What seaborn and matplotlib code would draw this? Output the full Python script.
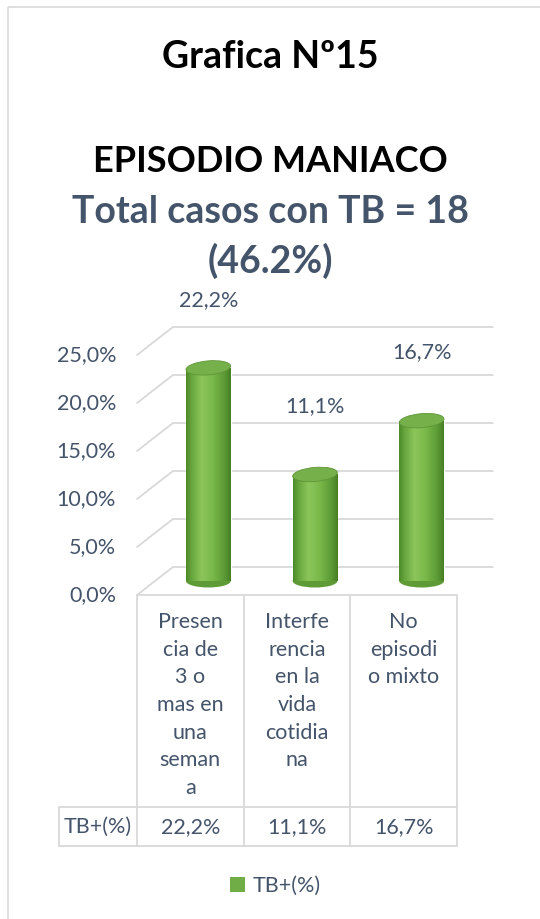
import numpy as np
import pandas as pd
import matplotlib
matplotlib.use("Agg")
import matplotlib.pyplot as plt
import seaborn as sns
from matplotlib import transforms
from matplotlib.patches import Ellipse, Patch, Rectangle
from matplotlib.colors import LinearSegmentedColormap

# ---------------- data ----------------
categories = ["Presencia de 3 o mas en una semana",
              "Interferencia en la vida cotidiana",
              "No episodio mixto"]
category_lines = [["Presen", "cia de", "3 o", "mas en", "una", "seman", "a"],
                  ["Interfe", "rencia", "en la", "vida", "cotidia", "na"],
                  ["No", "episodi", "o mixto"]]
values = [22.2, 11.1, 16.7]
value_labels = ["22,2%", "11,1%", "16,7%"]
yticks = [0, 5, 10, 15, 20, 25]
ytick_labels = ["0,0%", "5,0%", "10,0%", "15,0%", "20,0%", "25,0%"]
series_name = "TB+(%)"
title1 = "Grafica Nº15"
title2 = "EPISODIO MANIACO"
title3 = "Total casos con TB = 18"
title4 = "(46.2%)"

# ---------------- style ----------------
sns.set_theme(style="white")
plt.rcParams["font.family"] = ["Lato", "DejaVu Sans"]
TXT = "#44546A"
GRID = "#D9D9D9"
FS = 15.5

W, H = 540, 919
fig = plt.figure(figsize=(W / 100, H / 100), dpi=100)
fig.patch.set_facecolor("white")

ov = fig.add_axes([0, 0, 1, 1])
ov.set_xlim(0, W)
ov.set_ylim(H, 0)
ov.axis("off")

# main plot axes: mid-depth coordinates
x_left, x_right = 155, 475
y0_px, y25_px = 581, 341
ax = fig.add_axes([x_left / W, (H - y0_px) / H, (x_right - x_left) / W, (y0_px - y25_px) / H])
ax.patch.set_alpha(0)

px_per_cat = (x_right - x_left) / 3.0
px_per_pct = (y0_px - y25_px) / 25.0
DX = 18 / px_per_cat
DY = 14 / px_per_pct

df = pd.DataFrame({"cat": categories, "val": values})
sns.barplot(data=df, x="cat", y="val", color="#70AD47", width=0.42, ax=ax,
            zorder=2, saturation=1)
ax.set_xlim(-0.5, 2.5)
ax.set_ylim(0, 25)
ax.axis("off")

# back wall gridlines and side wall
for t in yticks:
    ax.plot([-0.5 + DX, 2.5 + DX], [t + DY, t + DY], color=GRID, lw=1.3,
            clip_on=False, zorder=0)
    ax.plot([-0.5 - DX, -0.5 + DX], [t - DY, t + DY], color=GRID, lw=1.3,
            clip_on=False, zorder=0)
# floor front edge
ax.plot([-0.5 - DX, 2.5 - DX], [-DY, -DY], color=GRID, lw=1.3, clip_on=False, zorder=0)

# cylinder shading
cmap = LinearSegmentedColormap.from_list(
    "cyl", [(0, "#4C8829"), (0.12, "#66A53C"), (0.35, "#8CC65B"),
            (0.6, "#79B849"), (0.85, "#5D9B36"), (1, "#467E24")])
grad = np.linspace(0, 1, 256).reshape(1, -1)
eh = 13 / px_per_pct
bars = list(ax.patches)
for i, p in enumerate(bars):
    x0, w, h = p.get_x(), p.get_width(), p.get_height()
    xc = x0 + w / 2
    p.set_clip_on(False)
    im = ax.imshow(grad, extent=[x0, x0 + w, 0, h], aspect="auto", cmap=cmap,
                   zorder=2.1, interpolation="bilinear")
    im.set_clip_path(p)
    bot = Ellipse((xc, 0), w, eh, facecolor="#5E9B37", edgecolor="none",
                  zorder=2.05, clip_on=False)
    ax.add_patch(bot)
    im2 = ax.imshow(grad, extent=[x0, x0 + w, -eh / 2, 0.01], aspect="auto", cmap=cmap,
                    zorder=2.1, interpolation="bilinear")
    im2.set_clip_path(bot)
    top = Ellipse((0, 0), w * px_per_cat, 14, angle=5, facecolor="#76B04A",
                  edgecolor="#5F9539", lw=0.6, zorder=2.3,
                  transform=transforms.ScaledTranslation(xc, h, ax.transData))
    ax.add_patch(top)
    ax.text(xc, h + 7.1, value_labels[i], ha="center", va="center",
            color=TXT, fontsize=FS, zorder=3)

ax.set_xlim(-0.5, 2.5)
ax.set_ylim(0, 25)

# y tick labels (front edge)
ytrans = transforms.blended_transform_factory(ov.transData, ax.transData)
for t, lab in zip(yticks, ytick_labels):
    ov.text(116, t - DY, lab, transform=ytrans, ha="right", va="center",
            color=TXT, fontsize=FS)

# data table
xtrans = transforms.blended_transform_factory(ax.transData, ov.transData)
floor_px = 595
row_top, row_bot = 807, 846
bounds = [i - 0.5 - DX for i in range(len(categories) + 1)]
for b in bounds:
    ov.plot([b, b], [floor_px, row_bot], transform=xtrans, color=GRID, lw=1.3, clip_on=False)
ov.plot([59, 59], [row_top, row_bot], color=GRID, lw=1.3)
for yy in (row_top, row_bot):
    ov.plot([59, 137], [yy, yy], color=GRID, lw=1.3)
    ov.plot([bounds[0], bounds[-1]], [yy, yy], transform=xtrans, color=GRID, lw=1.3)
for i, lines in enumerate(category_lines):
    ov.text(i - DX, 612, "\n".join(lines), transform=xtrans, ha="center", va="top",
            color=TXT, fontsize=FS, linespacing=1.48)
    ov.text(i - DX, 827, value_labels[i], transform=xtrans, ha="center", va="center",
            color=TXT, fontsize=FS)
ov.text(98, 827, series_name, ha="center", va="center", color=TXT, fontsize=FS)

# legend
fig.legend(handles=[Patch(facecolor="#70AD47", edgecolor="none")], labels=[series_name],
           loc="center", bbox_to_anchor=(275 / W, 1 - 886 / H), frameon=False,
           handlelength=0.7, handleheight=0.7, handletextpad=0.35, fontsize=FS,
           labelcolor=TXT)

# titles
ov.text(270, 68, title1, ha="center", va="baseline", fontsize=27, fontweight="bold", color="black")
ov.text(270, 172, title2, ha="center", va="baseline", fontsize=26, fontweight="bold", color="black")
ov.text(270, 223, title3, ha="center", va="baseline", fontsize=27, fontweight="bold", color=TXT)
ov.text(270, 273, title4, ha="center", va="baseline", fontsize=27, fontweight="bold", color=TXT)

# chart border
ov.add_patch(Rectangle((8, 7), 560, 940, fill=False, edgecolor=GRID, lw=1.2))

fig.savefig("out.png", dpi=100, facecolor="white")
